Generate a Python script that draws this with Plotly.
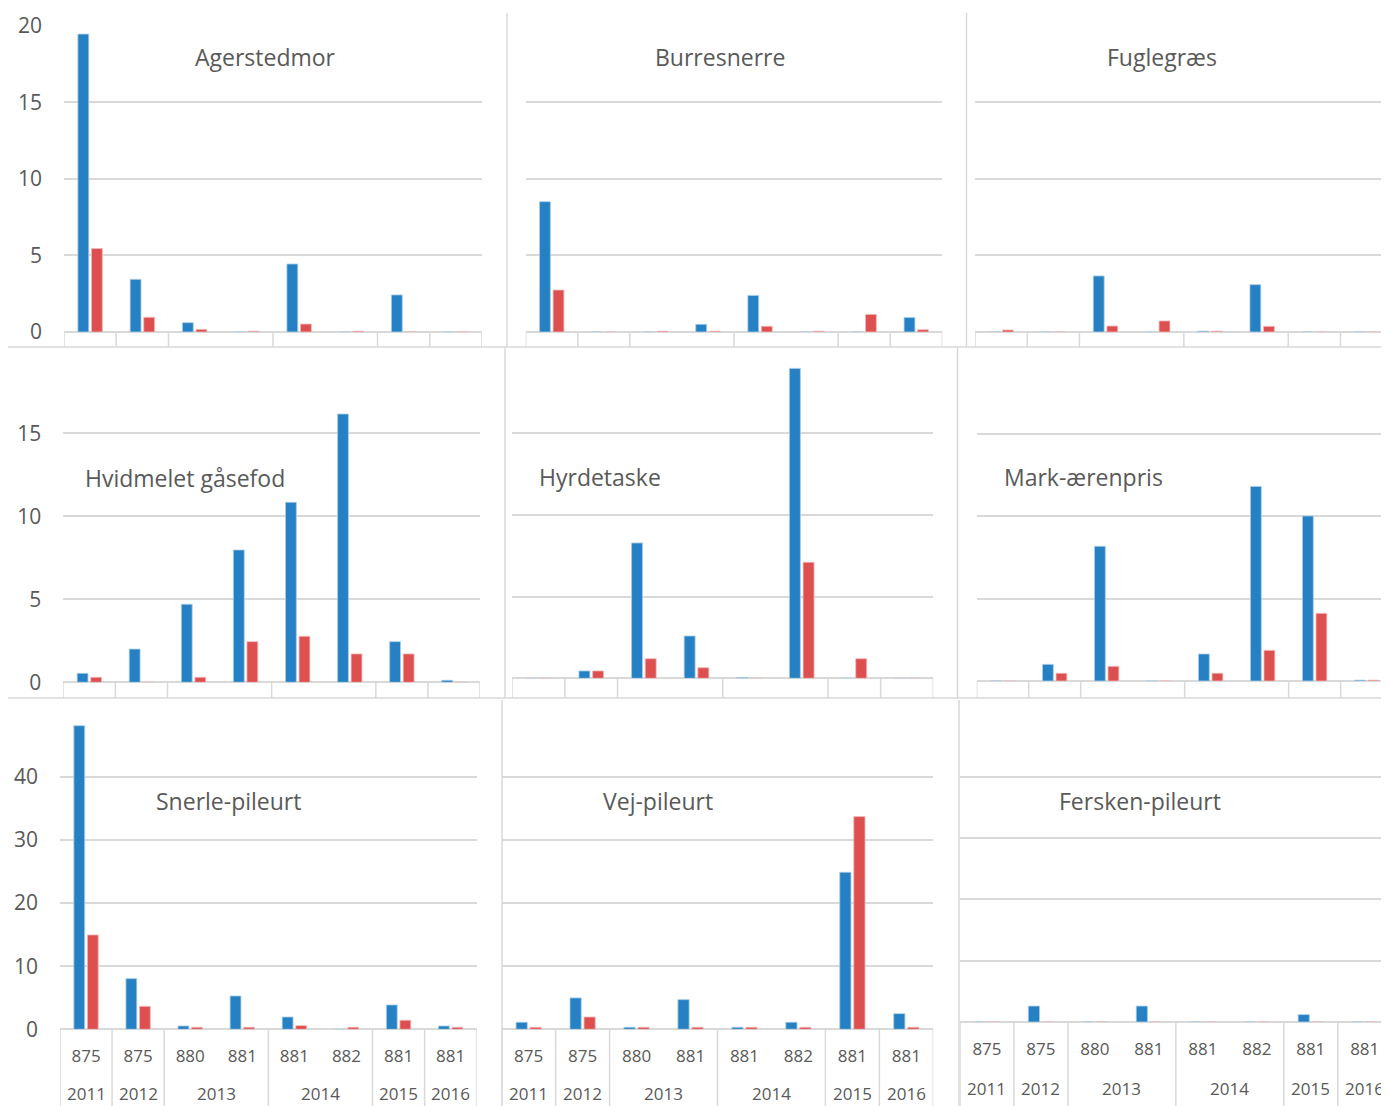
import plotly.graph_objects as go

W, H = 1389, 1106
OX, OY = 8, 8  # page body margin compensation

years = ["2011", "2012", "2013", "2013", "2014", "2014", "2015", "2016"]
codes = ["875", "875", "880", "881", "881", "882", "881", "881"]

species = ["Agerstedmor", "Burresnerre", "Fuglegræs",
           "Hvidmelet gåsefod", "Hyrdetaske", "Mark-ærenpris",
           "Snerle-pileurt", "Vej-pileurt", "Fersken-pileurt"]

agerstedmor_blue = [19.45, 3.44, 0.61, 0, 4.44, 0, 2.42, 0]
agerstedmor_red = [5.45, 0.96, 0.17, 0.05, 0.52, 0.05, 0, 0]
burresnerre_blue = [8.51, 0, 0, 0.5, 2.39, 0, 0, 0.94]
burresnerre_red = [2.74, 0, 0.05, 0.05, 0.37, 0.05, 1.15, 0.15]
fuglegraes_blue = [0, 0, 3.66, 0, 0.05, 3.09, 0, 0]
fuglegraes_red = [0.13, 0, 0.39, 0.72, 0.05, 0.37, 0, 0]
hvidmelet_blue = [0.54, 2.0, 4.7, 7.97, 10.84, 16.16, 2.45, 0.12]
hvidmelet_red = [0.3, 0, 0.3, 2.45, 2.77, 1.71, 1.71, 0]
hyrdetaske_blue = [0, 0.45, 8.29, 2.59, 0.05, 18.98, 0, 0]
hyrdetaske_red = [0, 0.45, 1.2, 0.65, 0, 7.1, 1.2, 0]
mark_blue = [0, 1.01, 8.18, 0, 1.64, 11.82, 10.02, 0.05]
mark_red = [0, 0.47, 0.89, 0, 0.47, 1.86, 4.11, 0.05]
snerle_blue = [48.1, 8.03, 0.53, 5.28, 1.95, 0, 3.86, 0.53]
snerle_red = [14.95, 3.64, 0.32, 0.32, 0.58, 0.32, 1.43, 0.32]
vej_blue = [1.11, 4.97, 0.32, 4.7, 0.32, 1.11, 24.88, 2.48]
vej_red = [0.32, 1.95, 0.32, 0.32, 0.32, 0.32, 33.7, 0.32]
fersken_blue = [0, 0.26, 0, 0.26, 0, 0, 0.12, 0]
fersken_red = [0, 0, 0, 0, 0, 0, 0, 0]

blue_series = [agerstedmor_blue, burresnerre_blue, fuglegraes_blue,
               hvidmelet_blue, hyrdetaske_blue, mark_blue,
               snerle_blue, vej_blue, fersken_blue]
red_series = [agerstedmor_red, burresnerre_red, fuglegraes_red,
              hvidmelet_red, hyrdetaske_red, mark_red,
              snerle_red, vej_red, fersken_red]

y_max = [20, 20, 20, 19.8, 19.8, 19.8, 49.8, 49.8, 4.9]
y_dtick = [5, 5, 5, 5, 5, 5, 10, 10, 1]

# panel geometry in reference pixels: x-left, x-right, y-top(at y_max), y-zero, x-range end
panels = [
    (64, 482, 25.7, 332, 7.5),
    (525.7, 942.3, 25.7, 332, 7.5),
    (975, 1389, 25.7, 332, 7.43),
    (63.3, 480, 353.6, 682.3, 7.5),
    (512.3, 933.3, 355, 678.3, 7.5),
    (976.7, 1389, 355, 681, 7.43),
    (60, 476.7, 715, 1029.3, 7.5),
    (501.7, 933.3, 715, 1029.3, 7.5),
    (960, 1389, 721.6, 1022, 7.45),
]
box_len = [15, 15, 15, 16, 20, 17, 77, 77, 84]
title_pos = [(265, 57), (720, 57), (1162, 57),
             (185, 478), (600, 477), (1083, 477),
             (228, 801), (658, 801), (1140, 801)]

BLUE = "#2581c3"
RED = "#de4f4f"
GRID = "#d9d9d9"
TXT = "#595959"
FONT = "Open Sans"


def fx(px):
    return (px - OX) / W


def fy(py):
    return 1 - (py - OY) / H


fig = go.Figure()
layout = dict(
    template="none",
    width=W, height=H, margin=dict(l=0, r=0, t=0, b=0, pad=0, autoexpand=False),
    paper_bgcolor="white", plot_bgcolor="white",
    barmode="group", bargap=0.48, bargroupgap=0.2,
    showlegend=False, font=dict(family=FONT, color=TXT),
)
shapes = []
annotations = []

xs = list(range(len(codes)))
for k in range(9):
    n = "" if k == 0 else str(k + 1)
    xl, xr, yt, yz, xend = panels[k]
    fig.add_trace(go.Bar(x=xs, y=blue_series[k], name="Serie 1",
                         marker=dict(color=BLUE, line=dict(color="#a9cdea", width=0.8)),
                         xaxis="x" + n, yaxis="y" + n))
    fig.add_trace(go.Bar(x=xs, y=red_series[k], name="Serie 2",
                         marker=dict(color=RED, line=dict(color="#f2b8b8", width=0.8)),
                         xaxis="x" + n, yaxis="y" + n))
    bottom = k >= 6
    left = k % 3 == 0
    layout["xaxis" + n] = dict(
        domain=[fx(xl), min(fx(xr), 1)], range=[-0.5, xend], anchor="y" + n,
        showgrid=False, zeroline=False, showline=False, ticks="", automargin=False,
        tickmode="array", tickvals=xs, ticktext=codes,
        showticklabels=bottom, tickfont=dict(size=17, color=TXT, family=FONT),
        ticklabelstandoff=15,
    )
    layout["yaxis" + n] = dict(
        domain=[fy(yz), fy(yt)], range=[0, y_max[k]], anchor="x" + n,
        dtick=y_dtick[k], tick0=0, showgrid=True, gridcolor=GRID, gridwidth=1.5,
        zeroline=True, zerolinecolor=GRID, zerolinewidth=1.5, showline=False,
        ticks="", automargin=False, showticklabels=left,
        tickfont=dict(size=21, color=TXT, family=FONT),
        ticklabelstandoff=21,
    )
    bounds = [-0.5] + [i - 0.5 for i in range(1, len(years)) if years[i] != years[i - 1]] + [len(years) - 0.5]
    frac = box_len[k] / (yz - yt)
    for b in bounds:
        shapes.append(dict(type="line", xref="x" + n, yref="y" + n + " domain",
                           x0=b, x1=b, y0=0, y1=-frac,
                           line=dict(color=GRID, width=1.5)))
    if bottom:
        groups = []
        for i, yv in enumerate(years):
            if groups and groups[-1][0] == yv:
                groups[-1][1].append(i)
            else:
                groups.append((yv, [i]))
        for yv, idx in groups:
            annotations.append(dict(text=yv, xref="x" + n, yref="y" + n + " domain",
                                    x=sum(idx) / len(idx), y=0, yshift=-64 if k < 8 else -66,
                                    yanchor="middle", xanchor="center", showarrow=False,
                                    font=dict(size=17, color=TXT, family=FONT)))
    tx, ty = title_pos[k]
    annotations.append(dict(text=species[k], xref="paper", yref="paper",
                            x=fx(tx), y=fy(ty), xanchor="center", yanchor="middle",
                            showarrow=False, font=dict(size=23, color=TXT, family=FONT)))


def pline(x0, y0, x1, y1):
    shapes.append(dict(type="line", xref="paper", yref="paper",
                       x0=fx(x0), x1=min(fx(x1), 1), y0=fy(y0), y1=fy(y1),
                       line=dict(color=GRID, width=1.5)))


pline(8, 347, W, 347)
pline(8, 698, W, 698)
pline(507, 13, 507, 347)
pline(966.5, 13, 966.5, 347)
pline(505, 347, 505, 698)
pline(957.5, 347, 957.5, 698)
pline(502, 700, 502, H)
pline(959, 700, 959, H)

layout["shapes"] = shapes
layout["annotations"] = annotations
fig.update_layout(**layout)
fig.write_html("out.html")
